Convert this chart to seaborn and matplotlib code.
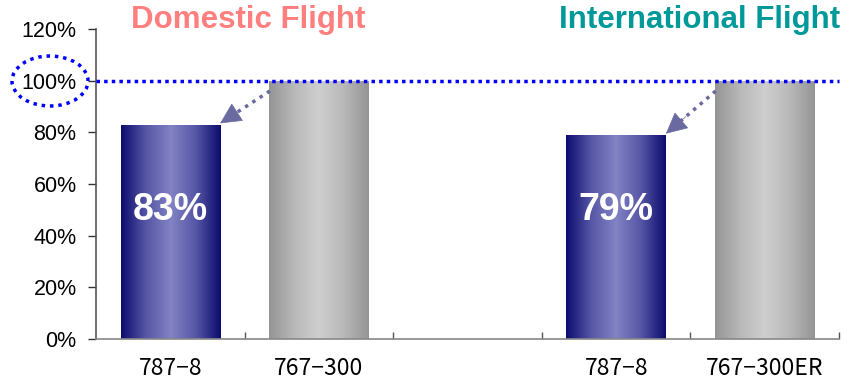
import numpy as np
import pandas as pd
import matplotlib
matplotlib.use('Agg')
import matplotlib.pyplot as plt
import seaborn as sns
from matplotlib.colors import LinearSegmentedColormap
from matplotlib.patches import Ellipse, FancyArrowPatch

# data
slots = ['d_787', 'd_767', 'gap', 'i_787', 'i_767']
tick_labels = ['787−8', '767−300', '', '787−8', '767−300ER']
ratios = [0.83, 1.00, 0.0, 0.79, 1.00]
bar_kind = ['blue', 'gray', 'none', 'blue', 'gray']
value_labels = ['83%', '', '', '79%', '']

df = pd.DataFrame({'slot': slots, 'ratio': ratios})

sns.set_style('white')
plt.rcParams['font.family'] = ['Liberation Sans', 'DejaVu Sans']

fig = plt.figure(figsize=(8.65, 3.82), dpi=100)
ax = fig.add_axes([0.111, 0.1126, 0.859, 0.8114])

sns.barplot(data=df, x='slot', y='ratio', order=slots, width=0.67,
            color='white', linewidth=0, ax=ax)

cmaps = {
    'blue': LinearSegmentedColormap.from_list('b', ['#0c0c6e', '#5656a6', '#8282c4', '#5656a6', '#0c0c6e']),
    'gray': LinearSegmentedColormap.from_list('g', ['#959595', '#b8b8b8', '#cfcfcf', '#b8b8b8', '#959595']),
}
grad = np.linspace(0, 1, 256).reshape(1, -1)
for patch, kind in zip(ax.patches, bar_kind):
    if kind == 'none':
        patch.set_visible(False)
        continue
    x0, y0 = patch.get_x(), patch.get_y()
    w, h = patch.get_width(), patch.get_height()
    im = ax.imshow(grad, cmap=cmaps[kind], aspect='auto',
                   extent=[x0, x0 + w, y0, y0 + h], zorder=2)
    im.set_clip_path(patch)

for i, lab in enumerate(value_labels):
    if lab:
        ax.text(i, 0.5, lab, color='white', fontsize=27, fontweight='bold',
                ha='center', va='center', zorder=4)

ax.set_xlim(-0.5, len(slots) - 0.5)
ax.set_ylim(0, 1.2)
ax.set_yticks(np.arange(0, 1.21, 0.2))
ax.set_yticklabels([f'{int(round(v * 100))}%' for v in np.arange(0, 1.21, 0.2)],
                   fontsize=15.5, color='black')
ax.set_xticks(range(len(slots)))
ax.set_xticklabels(tick_labels, fontsize=16.5, color='black',
                   family=['Noto Sans CJK JP', 'DejaVu Sans'])
ax.set_xticks(np.arange(0.5, len(slots), 1), minor=True)
ax.tick_params(axis='x', which='major', bottom=False, length=0, pad=13)
ax.tick_params(axis='x', which='minor', bottom=True, direction='in', length=5,
               width=1, color='#555555')
ax.tick_params(axis='y', which='major', left=True, direction='out', length=6,
               width=1, color='#333333', pad=8)
ax.set_xlabel('')
ax.set_ylabel('')
for side in ['top', 'right']:
    ax.spines[side].set_visible(False)
ax.spines['left'].set_color('#555555')
ax.spines['bottom'].set_color('#888888')
ax.spines['left'].set_linewidth(1.2)
ax.spines['bottom'].set_linewidth(1.2)

# 100% reference line
ax.axhline(1.0, color='#0000ff', linestyle=(0, (1, 1.2)), linewidth=2.5, zorder=3, clip_on=False)

# dotted ellipse around the 100% label
ell = Ellipse((50 / 865, 1 - 81 / 382), 76 / 865, 50 / 382, transform=fig.transFigure,
              fill=False, edgecolor='#0000ff', linestyle=(0, (1, 1.4)), linewidth=2.5)
fig.patches.append(ell)

# arrows from 767 bars to 787 bars: dotted shaft + solid head
arrow_col = '#6a6aa0'
for src, dst in [(1, 0), (4, 3)]:
    start = np.array([src - 0.33, 0.96])
    end = np.array([dst + 0.335, ratios[dst] + 0.005])
    near = start + (end - start) * 0.72
    ax.plot([start[0], near[0]], [start[1], near[1]], color=arrow_col,
            linestyle=(0, (1, 1.5)), linewidth=2.5, zorder=5)
    head_start = start + (end - start) * 0.6
    arr = FancyArrowPatch(tuple(head_start), tuple(end),
                          arrowstyle='-|>,head_length=14,head_width=7', mutation_scale=1,
                          color=arrow_col, linewidth=0.5, shrinkA=0, shrinkB=0, zorder=5)
    ax.add_patch(arr)

fig.text(248 / 865, 1 - 20 / 382, 'Domestic Flight', color='#ff7f7f', fontsize=22.5,
         fontweight='bold', ha='center', va='center')
fig.text(700 / 865, 1 - 20 / 382, 'International Flight', color='#009999', fontsize=22.5,
         fontweight='bold', ha='center', va='center')

fig.savefig('out.png', dpi=100)
